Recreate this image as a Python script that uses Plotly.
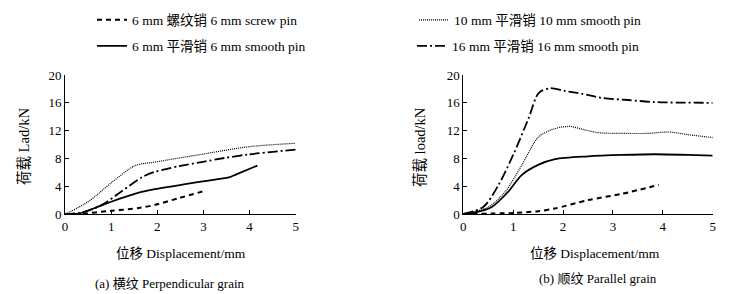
import plotly.graph_objects as go

# ---- data: (a) perpendicular grain ----
a_screw6_x = [0, 0.3, 1.0, 1.6, 1.95, 2.45, 3.05]
a_screw6_y = [0, 0.05, 0.5, 0.9, 1.35, 2.3, 3.4]
a_smooth6_x = [0, 0.3, 0.72, 1.0, 1.6, 1.95, 2.95, 3.55, 3.7, 4.17]
a_smooth6_y = [0, 0.1, 1.1, 1.8, 3.1, 3.6, 4.7, 5.3, 5.7, 7.0]
a_smooth10_x = [0, 0.5, 1.0, 1.52, 1.95, 2.95, 3.98, 5.0]
a_smooth10_y = [0, 1.8, 4.5, 7.0, 7.5, 8.6, 9.7, 10.2]
a_smooth16_x = [0, 0.4, 0.8, 1.23, 1.66, 1.95, 2.46, 2.96, 3.47, 3.98, 5.0]
a_smooth16_y = [0, 0.3, 1.35, 3.3, 5.3, 6.1, 6.9, 7.5, 8.1, 8.6, 9.3]

# ---- data: (b) parallel grain ----
b_screw6_x = [0, 1.0, 1.5, 1.84, 2.5, 3.18, 3.92]
b_screw6_y = [0, 0.15, 0.4, 0.8, 2.0, 2.9, 4.2]
b_smooth6_x = [0, 0.23, 0.57, 0.9, 1.17, 1.51, 1.84, 2.5, 3.18, 3.85, 4.5, 5.0]
b_smooth6_y = [0, 0.2, 1.0, 3.2, 5.6, 7.1, 7.9, 8.3, 8.5, 8.6, 8.5, 8.4]
b_smooth10_x = [0, 0.5, 0.84, 1.17, 1.51, 1.84, 2.14, 2.38, 2.71, 3.18, 3.71, 4.12, 4.52, 5.0]
b_smooth10_y = [0, 1.0, 3.2, 7.0, 11.1, 12.3, 12.6, 12.2, 11.7, 11.6, 11.6, 11.8, 11.4, 11.0]
b_smooth16_x = [0, 0.4, 0.7, 1.0, 1.31, 1.51, 1.74, 2.04, 2.38, 2.78, 3.31, 3.85, 5.0]
b_smooth16_y = [0, 1.0, 4.1, 8.5, 13.8, 17.4, 18.1, 17.7, 17.3, 16.7, 16.4, 16.1, 16.0]

names = ["6 mm 螺纹销 6 mm screw pin", "6 mm 平滑销 6 mm smooth pin",
         "10 mm 平滑销 10 mm smooth pin", "16 mm 平滑销 16 mm smooth pin"]
x_ticks = [0, 1, 2, 3, 4, 5]
y_ticks = [0, 4, 8, 12, 16, 20]

FONT = "Liberation Serif, Noto Sans CJK SC, serif"
styles = [dict(dash="5px,4px", width=2),
          dict(dash="solid", width=1.8),
          dict(dash="1px,1px", width=1.2),
          dict(dash="10px,3px,2px,3px", width=1.8)]

fig = go.Figure()
a_data = [(a_screw6_x, a_screw6_y), (a_smooth6_x, a_smooth6_y),
          (a_smooth10_x, a_smooth10_y), (a_smooth16_x, a_smooth16_y)]
b_data = [(b_screw6_x, b_screw6_y), (b_smooth6_x, b_smooth6_y),
          (b_smooth10_x, b_smooth10_y), (b_smooth16_x, b_smooth16_y)]
legend_ids = ["legend", "legend2", "legend3", "legend4"]
for i, (x, y) in enumerate(a_data):
    fig.add_trace(go.Scatter(x=x, y=y, mode="lines", name=names[i],
                             line=dict(color="black", shape="spline", smoothing=0.8, **styles[i]),
                             xaxis="x", yaxis="y", legend=legend_ids[i]))
for i, (x, y) in enumerate(b_data):
    fig.add_trace(go.Scatter(x=x, y=y, mode="lines", name=names[i], showlegend=False,
                             line=dict(color="black", shape="spline", smoothing=0.8, **styles[i]),
                             xaxis="x2", yaxis="y2"))

W, H = 748, 294
def px(v): return v / W
def py(v): return 1 - v / H

axis_common = dict(showline=True, linecolor="black", linewidth=1, showgrid=False,
                   zeroline=False, ticks="inside", ticklen=4, tickcolor="black",
                   automargin=False,
                   tickfont=dict(family=FONT, size=13, color="black"))
fig.update_layout(
    width=W, height=H, margin=dict(l=0, r=0, t=0, b=0, autoexpand=False),
    paper_bgcolor="white", plot_bgcolor="white",
    font=dict(family=FONT, size=13, color="black"),
    xaxis=dict(domain=[px(65), px(295.7)], range=[0, 5], tickvals=x_ticks, anchor="y", **axis_common),
    yaxis=dict(domain=[py(214.3), py(75)], range=[0, 20], tickvals=y_ticks, anchor="x", **axis_common),
    xaxis2=dict(domain=[px(463.3), px(712.7)], range=[0, 5], tickvals=x_ticks, anchor="y2", **axis_common),
    yaxis2=dict(domain=[py(214), py(75)], range=[0, 20], tickvals=y_ticks, anchor="x2", **axis_common),
)
leg_pos = [(92, 20), (92, 46), (414, 20), (412, 46)]
for lid, (lx, ly) in zip(legend_ids, leg_pos):
    fig.update_layout({lid: dict(x=px(lx), y=py(ly), xanchor="left", yanchor="middle",
                                 bgcolor="rgba(0,0,0,0)", borderwidth=0,
                                 font=dict(family=FONT, size=13.5, color="black"))})

ann = [
    dict(text="荷载 Lad/kN", x=px(24), y=py(147), textangle=-90, size=14.5),
    dict(text="荷载 load/kN", x=px(420), y=py(147), textangle=-90, size=14.5),
    dict(text="位移 Displacement/mm", x=px(181), y=py(253), textangle=0, size=13.5),
    dict(text="位移 Displacement/mm", x=px(595), y=py(253), textangle=0, size=13.5),
    dict(text="(a) 横纹 Perpendicular grain", x=px(170), y=py(283), textangle=0, size=13),
    dict(text="(b) 顺纹 Parallel grain", x=px(598), y=py(278), textangle=0, size=13),
]
for a in ann:
    fig.add_annotation(text=a["text"], x=a["x"], y=a["y"], xref="paper", yref="paper",
                       showarrow=False, textangle=a["textangle"],
                       xanchor="center", yanchor="middle",
                       font=dict(family=FONT, size=a["size"], color="black"))

fig.write_html("out.html", config={"displayModeBar": False},
               post_script="document.body.style.margin='0';document.body.style.overflow='hidden';")
